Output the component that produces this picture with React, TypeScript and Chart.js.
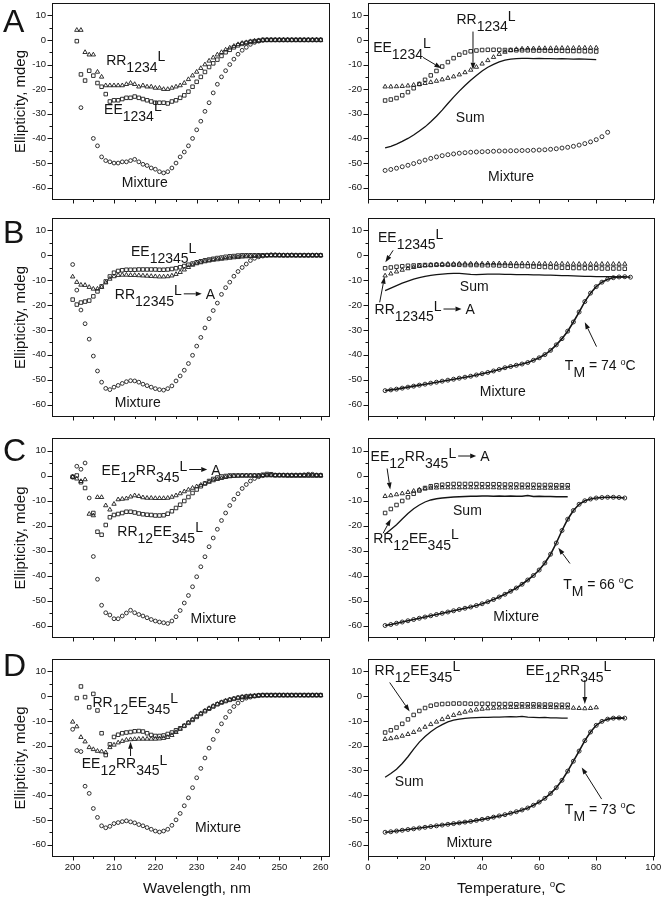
import React, { useEffect, useRef } from 'react';
import { Chart, registerables } from 'chart.js';

Chart.register(...registerables);

const FONT = '"Liberation Sans", Arial, Helvetica, sans-serif';
const INK = '#141414';

// ---------- x grids ----------
const WAVELENGTH = [200,201,202,203,204,205,206,207,208,209,210,211,212,213,214,215,216,217,218,219,220,221,222,223,224,225,226,227,228,229,230,231,232,233,234,235,236,237,238,239,240,241,242,243,244,245,246,247,248,249,250,251,252,253,254,255,256,257,258,259,260];
const TEMP_6_70 = [6,8,10,12,14,16,18,20,22,24,26,28,30,32,34,36,38,40,42,44,46,48,50,52,54,56,58,60,62,64,66,68,70];
const TEMP_6_80 = [6,8,10,12,14,16,18,20,22,24,26,28,30,32,34,36,38,40,42,44,46,48,50,52,54,56,58,60,62,64,66,68,70,72,74,76,78,80];
const TEMP_6_84 = [6,8,10,12,14,16,18,20,22,24,26,28,30,32,34,36,38,40,42,44,46,48,50,52,54,56,58,60,62,64,66,68,70,72,74,76,78,80,82,84];
const TEMP_6_90 = [6,8,10,12,14,16,18,20,22,24,26,28,30,32,34,36,38,40,42,44,46,48,50,52,54,56,58,60,62,64,66,68,70,72,74,76,78,80,82,84,86,88,90];
const TEMP_6_92 = [6,8,10,12,14,16,18,20,22,24,26,28,30,32,34,36,38,40,42,44,46,48,50,52,54,56,58,60,62,64,66,68,70,72,74,76,78,80,82,84,86,88,90,92];

// ---------- tick labels ----------
const Y_TICKS = [10, 0, -10, -20, -30, -40, -50, -60];
const Y_MINOR = [5, -5, -15, -25, -35, -45, -55];
const WL_TICKS = [200, 210, 220, 230, 240, 250, 260];
const WL_MINOR = [205, 215, 225, 235, 245, 255];
const T_TICKS = [0, 20, 40, 60, 80, 100];
const T_MINOR = [10, 30, 50, 70, 90];
const Y_TITLE = 'Ellipticity, mdeg';
const X_TITLE_WL = 'Wavelength, nm';
const X_TITLE_T = 'Temperature, ~{o}C';

// ---------- Panel A ----------
const A_L_RR = [null,4,4,-5,-6,-6,-13,-15,-18.5,-18.5,
  -18.5,-18.5,-18.5,-18,-17.5,-18,-19,-18.5,-19,-19,
  -19.5,-19.5,-20,-20,-19.5,-19,-18.5,-17.5,-16,-14.5,
  -13,-11.5,-10,-8.5,-7.2,-6,-5,-4,-3.2,-2.5,
  -1.8,-1.3,-1,-0.6,-0.4,-0.2,0,0,0,0,
  0,0,0,0,0,0,0,0,0,0,
  0];
const A_L_EE = [null,-0.5,-14,-16.5,-12.5,-14.5,-17.5,-19,-22,-25,
  -24.5,-24.5,-24,-23.5,-23.5,-23,-23.5,-24,-24.5,-25,
  -25.5,-25.5,-25.5,-25.8,-25,-24.5,-23.5,-22.5,-21,-19,
  -17,-15,-13,-11,-9.5,-8,-6.5,-5,-4,-3,
  -2.2,-1.6,-1.2,-0.8,-0.5,-0.3,0,0,0,0,
  0,0,0,0,0,0,0,0,0,0,
  0];
const A_L_MIX = [null,null,-27.5,null,null,-40,-43,-47.5,-49,-49.5,
  -50,-50,-49.5,-49.5,-49,-48.5,-49.5,-50.5,-51,-52,
  -52.5,-53.5,-54,-53.5,-52,-50,-47.5,-45.5,-43,-40,
  -36.5,-33,-29,-25.5,-21.5,-18,-15,-12.5,-10,-7.8,
  -5.8,-4.2,-3,-1.8,-1,-0.5,-0.2,0,0,0,
  0,0,0,0,0,0,0,0,0,0,
  0];
const A_R_EE = [-24.6,-24.2,-23.6,-22.5,-21.2,-19.6,-17.9,-16.2,-14.4,-12.6,
  -10.8,-9.0,-7.4,-6.0,-5.1,-4.6,-4.3,-4.1,-4.0,-4.0,
  -4.0,-4.1,-4.1,-4.2,-4.2,-4.2,-4.3,-4.3,-4.3,-4.4,
  -4.4,-4.4,-4.5,-4.5,-4.5,-4.6,-4.6,-4.7];
const A_R_RR = [-19,-19,-18.9,-18.8,-18.6,-18.3,-18.0,-17.6,-17.2,-16.7,
  -16.1,-15.5,-14.9,-14.1,-13.2,-12.2,-11.0,-9.7,-8.3,-7.0,
  -5.8,-4.9,-4.2,-3.8,-3.6,-3.5,-3.5,-3.4,-3.4,-3.4,
  -3.3,-3.3,-3.3,-3.3,-3.2,-3.2,-3.2,-3.2];
const A_R_SUM = [-43.8,-43.2,-42.3,-41.2,-40.0,-38.6,-37.0,-35.3,-33.2,-31.0,
  -28.5,-25.8,-23.2,-20.8,-18.5,-16.4,-14.4,-12.6,-11.1,-9.9,
  -8.9,-8.2,-7.8,-7.6,-7.5,-7.5,-7.6,-7.5,-7.6,-7.6,
  -7.7,-7.6,-7.7,-7.8,-7.7,-7.8,-7.9,-8.0];
const A_R_MIX = [-53,-52.6,-52.1,-51.5,-50.9,-50.2,-49.5,-48.8,-48.1,-47.5,
  -47.0,-46.6,-46.3,-46.0,-45.8,-45.6,-45.5,-45.4,-45.3,-45.2,
  -45.1,-45.1,-45.0,-45.0,-44.9,-44.9,-44.8,-44.7,-44.6,-44.4,
  -44.2,-43.9,-43.6,-43.2,-42.7,-42.1,-41.4,-40.5,-39.3,-37.5];

// ---------- Panel B ----------
const B_L_MIX = [-3.7,-14,-22,-27.5,-33.7,-40.5,-46.5,-51,-53.5,-54,
  -53,-52.3,-51.5,-50.8,-50.4,-50.5,-51,-51.8,-52.4,-53,
  -53.6,-54,-54.2,-53.6,-52.5,-50.5,-48.5,-46.2,-43.5,-40.2,
  -36.5,-33,-29.2,-25.5,-22.2,-19.2,-15.7,-13,-10.8,-8.4,
  -6.5,-4.9,-3.5,-2.1,-1.2,-0.6,-0.3,0,0.2,0.2,
  0.1,0,0,0.1,0,0,0,0,0,0,
  0];
const B_L_EE = [-17.8,-19.8,-19,-18.6,-18.2,-16.5,-14.5,-12.5,-10.5,-8.5,
  -7,-6.3,-6,-5.8,-5.8,-5.8,-5.7,-5.7,-5.7,-5.7,
  -5.7,-5.8,-5.8,-5.7,-5.5,-5.2,-4.8,-4.3,-3.8,-3.3,
  -2.8,-2.4,-2,-1.7,-1.4,-1.1,-0.9,-0.6,-0.4,-0.3,
  -0.1,0,0,0,0,0,0,0,0,0,
  0,0,0,0,0,0,0,0,0,0,
  0];
const B_L_RR = [-8.6,-10.8,-11.9,-12,-12.8,-13.5,-13.5,-12.8,-11,-9.5,
  -8.5,-8,-7.9,-7.9,-8,-8,-8.1,-8.2,-8.3,-8.4,
  -8.5,-8.6,-8.6,-8.5,-8.2,-7.6,-6.8,-5.8,-4.8,-3.9,
  -3.3,-2.9,-2.5,-2.2,-1.9,-1.7,-1.5,-1.3,-1.1,-0.9,
  -0.8,-0.6,-0.5,-0.4,-0.3,-0.2,-0.1,0,0,0,
  0,0,0,0,0,0,0,0,0,0,
  0];
const B_R_EE = [-5.2,-4.9,-4.6,-4.4,-4.2,-4.1,-4.0,-3.9,-3.9,-3.8,
  -3.8,-3.8,-3.8,-3.8,-3.9,-3.9,-3.9,-4.0,-4.0,-4.0,
  -4.1,-4.1,-4.2,-4.3,-4.3,-4.4,-4.5,-4.6,-4.7,-4.8,
  -4.9,-5.0,-5.0,-5.1,-5.1,-5.2,-5.2,-5.2,-5.3,-5.3,
  -5.3,-5.3,-5.4];
const B_R_RR = [-8.2,-7.4,-6.6,-5.9,-5.3,-4.8,-4.4,-4.1,-3.9,-3.7,
  -3.6,-3.5,-3.5,-3.4,-3.4,-3.4,-3.4,-3.4,-3.3,-3.3,
  -3.3,-3.3,-3.3,-3.3,-3.3,-3.3,-3.4,-3.4,-3.4,-3.4,
  -3.4,-3.4,-3.5,-3.5,-3.5,-3.5,-3.5,-3.5,-3.5,-3.5,
  -3.5,-3.5,-3.5];
const B_R_SUM = [-14.2,-13.2,-12.2,-11.2,-10.4,-9.6,-9.0,-8.5,-8.1,-7.8,
  -7.6,-7.4,-7.3,-7.3,-7.5,-7.7,-7.8,-7.7,-7.6,-7.6,
  -7.6,-7.7,-7.7,-7.8,-7.8,-7.8,-7.9,-7.9,-8.0,-8.0,
  -8.1,-8.2,-8.2,-8.3,-8.4,-8.5,-8.5,-8.6,-8.6,-8.6,
  -8.6,-8.7,-8.7];
const B_R_MIX = [-54.4,-54.1,-53.8,-53.4,-53.0,-52.6,-52.2,-51.8,-51.4,-51.0,
  -50.6,-50.2,-49.8,-49.4,-49.0,-48.6,-48.1,-47.6,-47.1,-46.5,
  -45.9,-45.2,-44.7,-44.2,-43.7,-43.1,-42.2,-41.2,-39.9,-38.2,
  -36.0,-33.5,-30.5,-26.8,-22.8,-18.6,-15.2,-12.6,-10.8,-9.6,
  -9.0,-8.7,-8.6,-8.8];

// ---------- Panel C ----------
const C_L_MIX = [-0.7,3.7,2.5,5,-9,-32.4,-41.5,-51.9,-54.9,-55.8,
  -57.3,-57.3,-56.2,-55,-53.9,-54.9,-55.6,-56.2,-56.9,-57.6,
  -58.2,-58.6,-58.9,-59.2,-58.2,-56.5,-54,-51,-48,-44.5,
  -40.5,-36.5,-32.5,-28.5,-25,-21.5,-18,-15,-12,-9.5,
  -7.3,-5.2,-3.6,-2.2,-1.2,-0.5,-0.1,0.2,0.2,0.2,
  0.2,0.2,0.2,0.2,0.2,0.2,0.3,0.5,0.5,0.2,
  0.2];
const C_L_SQ = [-0.5,0,-2.7,-5,null,-15,-22.5,-23.7,-19.8,-16.7,
  -15.8,-15.4,-15,-14.5,-14.5,-14.8,-15.2,-15.5,-15.7,-15.8,
  -16,-16,-15.9,-15.3,-14.3,-13,-11.7,-10.2,-8.6,-7,
  -5.6,-4.3,-3.2,-2.2,-1.4,-0.8,-0.4,-0.2,0,0,
  0,0,0,0,0,0,0.3,0.6,0.5,0.1,
  0.1,0.1,0,0,0,0,0,0,0,0,
  0];
const C_L_TR = [-0.5,-1.3,-2.3,-1.6,-15.4,-16,-8.7,-8.7,-12,-13.7,
  -11.4,-9.6,-9.4,-9.2,-8.5,-8,-8.3,-8.8,-9,-9,
  -9.1,-9.1,-9.1,-9,-8.6,-8,-7.2,-6.4,-5.7,-5,
  -4.4,-3.8,-3.2,-2.6,-2,-1.5,-1.1,-0.7,-0.4,-0.2,
  -0.1,0,0,0,0,0,0,0,0,0,
  0,0,0,0,0,0,0,0,0,0,
  0];
const C_R_SQ = [-15,-13.4,-11.8,-10.2,-8.7,-7.3,-6.0,-5.0,-4.3,-3.9,
  -3.7,-3.5,-3.4,-3.4,-3.4,-3.4,-3.4,-3.5,-3.5,-3.5,
  -3.5,-3.6,-3.6,-3.6,-3.7,-3.7,-3.7,-3.8,-3.8,-3.8,
  -3.9,-3.9,-3.9];
const C_R_TR = [-8.3,-8.0,-7.6,-7.2,-6.7,-6.2,-5.7,-5.3,-5.0,-4.9,
  -4.8,-4.8,-4.8,-4.8,-4.8,-4.8,-4.8,-4.8,-4.8,-4.8,
  -4.9,-4.9,-4.9,-4.9,-4.9,-4.9,-5.0,-5.0,-5.0,-5.0,
  -5.0,-5.0,-5.0];
const C_R_SUM = [-23.5,-21.6,-19.7,-17.4,-15.2,-13.3,-11.8,-10.6,-9.8,-9.3,
  -9.0,-8.8,-8.6,-8.5,-8.4,-8.3,-8.3,-8.2,-8.2,-8.3,
  -8.2,-8.3,-8.2,-8.3,-8.3,-8.0,-8.4,-8.3,-8.4,-8.4,
  -8.5,-8.5,-8.5];
const C_R_MIX = [-60,-59.6,-59.1,-58.6,-58.1,-57.6,-57.1,-56.6,-56.1,-55.6,
  -55.1,-54.6,-54.1,-53.6,-53.1,-52.6,-52.0,-51.3,-50.5,-49.6,
  -48.6,-47.5,-46.3,-45.0,-43.5,-41.8,-40.0,-37.8,-35.0,-31.5,
  -27.0,-22.0,-17.5,-14.0,-11.5,-10.1,-9.4,-9.0,-8.8,-8.7,
  -8.7,-8.8,-9.0];

// ---------- Panel D ----------
const D_L_SQ = [null,-0.8,3.9,-0.4,-4.5,0.9,-5.8,-15,-23.8,-19.5,
  -16.5,-15.6,-15,-14.7,-14.5,-14.2,-14.1,-14.3,-15,-15.7,
  -16.1,-16.1,-15.9,-15.3,-14.7,-13.8,-13,-12,-10.8,-9.6,
  -8.4,-7.2,-6.1,-5.1,-4.2,-3.3,-2.6,-2,-1.5,-1.1,
  -0.7,-0.4,-0.2,0,0.1,0.3,0.4,0.4,0.4,0.4,
  0.4,0.4,0.4,0.4,0.4,0.4,0.4,0.4,0.4,0.4,
  0.4];
const D_L_TR = [-10.4,-12.3,-16.6,-18.4,-20.7,-21.5,-22.2,-22.4,-22.8,-20.7,
  -19.7,-18.8,-18.2,-17.7,-17.5,-17.4,-17.3,-17.3,-17.3,-17.3,
  -17.3,-17.2,-17,-16.6,-15.8,-14.6,-13.3,-12,-10.7,-9.4,
  -8.2,-7,-5.9,-4.9,-4,-3.2,-2.5,-1.9,-1.4,-1,
  -0.6,-0.3,-0.1,0,0.1,0.3,0.3,0.3,0.3,0.3,
  0.3,0.3,0.3,0.3,0.3,0.3,0.3,0.3,0.3,0.3,
  0.3];
const D_L_MIX = [-13.4,-22,-22.4,-36.4,-39.3,-45.4,-49,-52.4,-53.2,-52.6,
  -51.5,-51.1,-50.7,-50.4,-50.8,-51.2,-51.9,-52.4,-53.1,-53.8,
  -54.5,-54.9,-54.5,-53.8,-52.2,-50,-47.4,-44.3,-41.1,-37,
  -33,-29.2,-25,-21,-17.5,-14.1,-11.2,-8.6,-6.2,-4.2,
  -2.8,-1.5,-0.8,-0.4,0,0.2,0.4,0.4,0.4,0.4,
  0.4,0.4,0.4,0.4,0.4,0.4,0.4,0.4,0.4,0.4,
  0.4];
const D_R_SQ = [-14.7,-13.8,-12.7,-11.2,-9.4,-7.6,-6.0,-4.8,-3.9,-3.4,
  -3.2,-3.1,-3.0,-3.0,-3.0,-3.1,-3.1,-3.1,-3.1,-3.2,
  -3.2,-3.2,-3.2,-3.3,-3.3,-3.3,-3.3,-3.4,-3.4,-3.4,
  -3.5,-3.5,-3.5];
const D_R_TR = [-17.4,-17.1,-16.7,-16.1,-15.4,-14.6,-13.6,-12.5,-11.4,-10.4,
  -9.4,-8.5,-7.7,-7.0,-6.4,-5.9,-5.5,-5.2,-5.0,-4.8,
  -4.7,-4.6,-4.5,-4.5,-4.4,-4.4,-4.4,-4.4,-4.5,-4.5,
  -4.6,-4.6,-4.7,-4.8,-4.9,-5.0,-4.9,-4.6];
const D_R_SUM = [-32.8,-31.3,-29.5,-27.2,-24.5,-21.4,-18.6,-16.3,-14.4,-12.8,
  -11.5,-10.4,-9.7,-9.3,-9.0,-8.8,-8.7,-8.6,-8.6,-8.5,
  -8.5,-8.4,-8.3,-8.4,-8.2,-8.5,-8.6,-8.7,-8.6,-8.8,
  -8.8,-8.9,-8.9];
const D_R_MIX = [-55,-54.8,-54.5,-54.2,-53.9,-53.6,-53.3,-53.0,-52.7,-52.4,
  -52.1,-51.8,-51.5,-51.2,-50.9,-50.6,-50.2,-49.8,-49.4,-48.9,
  -48.4,-47.9,-47.3,-46.7,-46.0,-45.2,-44.1,-42.8,-41.3,-39.3,
  -37.0,-34.0,-30.3,-26.3,-22.2,-18.0,-14.5,-11.8,-10.2,-9.3,
  -8.9,-8.8,-8.9];

// ---------- layout ----------
const ROWS = [
  { canvasTop: -9, height: 221, letterBaseline: 32 },
  { canvasTop: 206, height: 223, letterBaseline: 243 },
  { canvasTop: 426, height: 224, letterBaseline: 461 },
  { canvasTop: 647, height: 253, letterBaseline: 676 },
];

const PANELS: any[] = [
  { side: 'L', row: 0, letter: 'A',
    series: [
      { xs: WAVELENGTH, ys: A_L_RR, mark: 'triangle' },
      { xs: WAVELENGTH, ys: A_L_EE, mark: 'rect' },
      { xs: WAVELENGTH, ys: A_L_MIX, mark: 'circle' },
    ],
    labels: [
      { x: 208.1, y: -10, text: 'RR_{1234}^{L}' },
      { x: 207.6, y: -30.1, text: 'EE_{1234}^{L}' },
      { x: 211.9, y: -59.6, text: 'Mixture' },
    ], arrows: [] },
  { side: 'R', row: 0,
    series: [
      { xs: TEMP_6_80, ys: A_R_EE, mark: 'rect' },
      { xs: TEMP_6_80, ys: A_R_RR, mark: 'triangle' },
      { xs: TEMP_6_80, ys: A_R_SUM, mark: 'line' },
      { xs: TEMP_6_84, ys: A_R_MIX, mark: 'circle' },
    ],
    labels: [
      { x: 31, y: 6.3, text: 'RR_{1234}^{L}' },
      { x: 1.8, y: -4.7, text: 'EE_{1234}^{L}' },
      { x: 30.8, y: -33.3, text: 'Sum' },
      { x: 42.1, y: -57.3, text: 'Mixture' },
    ],
    arrows: [
      { x1: 36.8, y1: 3.4, x2: 36.8, y2: -12.1 },
      { x1: 19.3, y1: -7.1, x2: 25.7, y2: -11.5 },
    ] },
  { side: 'L', row: 1, letter: 'B',
    series: [
      { xs: WAVELENGTH, ys: B_L_RR, mark: 'triangle' },
      { xs: WAVELENGTH, ys: B_L_EE, mark: 'rect' },
      { xs: WAVELENGTH, ys: B_L_MIX, mark: 'circle' },
    ],
    labels: [
      { x: 214.1, y: -0.3, text: 'EE_{12345}^{L}' },
      { x: 210.2, y: -17.5, text: 'RR_{12345}^{L}→A' },
      { x: 210.2, y: -61, text: 'Mixture' },
    ], arrows: [] },
  { side: 'R', row: 1,
    series: [
      { xs: TEMP_6_90, ys: B_R_EE, mark: 'rect' },
      { xs: TEMP_6_90, ys: B_R_RR, mark: 'triangle' },
      { xs: TEMP_6_90, ys: B_R_SUM, mark: 'line' },
      { xs: TEMP_6_92, ys: B_R_MIX, mark: 'circleFit' },
    ],
    labels: [
      { x: 3.5, y: 5.2, text: 'EE_{12345}^{L}' },
      { x: 2.3, y: -23.6, text: 'RR_{12345}^{L}→A' },
      { x: 32.2, y: -14.5, text: 'Sum' },
      { x: 69, y: -46.3, text: 'T_{M} = 74 ~{o}C' },
      { x: 39.2, y: -56.4, text: 'Mixture' },
    ],
    arrows: [
      { x1: 8.8, y1: 2.0, x2: 6.1, y2: -2.8 },
      { x1: 4.1, y1: -18.9, x2: 5.8, y2: -8.6 },
      { x1: 80.1, y1: -36.7, x2: 76, y2: -26.9 },
    ] },
  { side: 'L', row: 2, letter: 'C',
    series: [
      { xs: WAVELENGTH, ys: C_L_TR, mark: 'triangle' },
      { xs: WAVELENGTH, ys: C_L_SQ, mark: 'rect' },
      { xs: WAVELENGTH, ys: C_L_MIX, mark: 'circle' },
    ],
    labels: [
      { x: 207, y: 0.4, text: 'EE_{12}RR_{345}^{L}→A' },
      { x: 210.8, y: -24.1, text: 'RR_{12}EE_{345}^{L}' },
      { x: 228.5, y: -58.9, text: 'Mixture' },
    ], arrows: [] },
  { side: 'R', row: 2,
    series: [
      { xs: TEMP_6_70, ys: C_R_SQ, mark: 'rect' },
      { xs: TEMP_6_70, ys: C_R_TR, mark: 'triangle' },
      { xs: TEMP_6_70, ys: C_R_SUM, mark: 'line' },
      { xs: TEMP_6_90, ys: C_R_MIX, mark: 'circleFit' },
    ],
    labels: [
      { x: 0.9, y: 5.8, text: 'EE_{12}RR_{345}^{L}→A' },
      { x: 1.8, y: -26.8, text: 'RR_{12}EE_{345}^{L}' },
      { x: 29.8, y: -15.7, text: 'Sum' },
      { x: 68.4, y: -45.3, text: 'T_{M} = 66 ~{o}C' },
      { x: 43.9, y: -58.3, text: 'Mixture' },
    ],
    arrows: [
      { x1: 6.7, y1: 2.8, x2: 7.8, y2: -5.6 },
      { x1: 5.3, y1: -23.1, x2: 8, y2: -17.4 },
      { x1: 70.8, y1: -35.2, x2: 66.7, y2: -28.9 },
    ] },
  { side: 'L', row: 3, letter: 'D',
    series: [
      { xs: WAVELENGTH, ys: D_L_SQ, mark: 'rect' },
      { xs: WAVELENGTH, ys: D_L_TR, mark: 'triangle' },
      { xs: WAVELENGTH, ys: D_L_MIX, mark: 'circle' },
    ],
    labels: [
      { x: 204.8, y: -4.2, text: 'RR_{12}EE_{345}^{L}' },
      { x: 202.2, y: -29.2, text: 'EE_{12}RR_{345}^{L}' },
      { x: 229.6, y: -55, text: 'Mixture' },
    ],
    arrows: [ { x1: 214, y1: -24.2, x2: 214, y2: -18.4 } ] },
  { side: 'R', row: 3,
    series: [
      { xs: TEMP_6_70, ys: D_R_SQ, mark: 'rect' },
      { xs: TEMP_6_80, ys: D_R_TR, mark: 'triangle' },
      { xs: TEMP_6_70, ys: D_R_SUM, mark: 'line' },
      { xs: TEMP_6_90, ys: D_R_MIX, mark: 'circleFit' },
    ],
    labels: [
      { x: 2.3, y: 8.6, text: 'RR_{12}EE_{345}^{L}' },
      { x: 55.3, y: 8.6, text: 'EE_{12}RR_{345}^{L}' },
      { x: 9.4, y: -36.2, text: 'Sum' },
      { x: 69, y: -47.6, text: 'T_{M} = 73 ~{o}C' },
      { x: 27.5, y: -61.1, text: 'Mixture' },
    ],
    arrows: [
      { x1: 7.6, y1: 5.5, x2: 14.6, y2: -6.2 },
      { x1: 76, y1: 6.5, x2: 76, y2: -3.2 },
      { x1: 81.9, y1: -41.6, x2: 74.9, y2: -28.8 },
    ] },
];

// ---------- rich text helpers ----------
function parseRich(s: string) {
  const out: { t: string; k: string }[] = [];
  let buf = '';
  let i = 0;
  const flush = () => { if (buf) { out.push({ t: buf, k: 'n' }); buf = ''; } };
  while (i < s.length) {
    const c = s[i];
    if ((c === '_' || c === '^' || c === '~') && s[i + 1] === '{') {
      flush();
      const end = s.indexOf('}', i);
      out.push({ t: s.slice(i + 2, end), k: c });
      i = end + 1;
    } else if (c === '→') {
      flush();
      out.push({ t: '', k: 'a' });
      i++;
    } else { buf += c; i++; }
  }
  flush();
  return out;
}

const SEG: any = { n: { s: 1, dy: 0 }, _: { s: 1, dy: 0.5 }, '^': { s: 1, dy: -0.25 }, '~': { s: 0.65, dy: -0.4 } };

function drawArrow(ctx: any, x1: number, y1: number, x2: number, y2: number, head = 7, half = 2.4) {
  const a = Math.atan2(y2 - y1, x2 - x1);
  const bx = x2 - head * Math.cos(a), by = y2 - head * Math.sin(a);
  ctx.beginPath();
  ctx.moveTo(x1, y1);
  ctx.lineTo(bx, by);
  ctx.stroke();
  ctx.beginPath();
  ctx.moveTo(x2, y2);
  ctx.lineTo(bx + half * Math.sin(a), by - half * Math.cos(a));
  ctx.lineTo(bx - half * Math.sin(a), by + half * Math.cos(a));
  ctx.closePath();
  ctx.fill();
}

function drawRich(ctx: any, x: number, y: number, s: string, base: number, dry = false) {
  let cx = x;
  for (const seg of parseRich(s)) {
    if (seg.k === 'a') {
      if (!dry) drawArrow(ctx, cx + 2, y - 5, cx + 20, y - 5, 6, 2.4);
      cx += 24;
      continue;
    }
    const st = SEG[seg.k];
    ctx.font = `${(base * st.s).toFixed(1)}px ${FONT}`;
    if (!dry) ctx.fillText(seg.t, cx, y + st.dy * base);
    cx += ctx.measureText(seg.t).width;
  }
  return cx - x;
}

function makeDecor(p: any) {
  const row = ROWS[p.row];
  const isLeft = p.side === 'L';
  return {
    id: 'decor',
    afterDraw(chart: any) {
      const { ctx, chartArea: ca, scales } = chart;
      const sx = scales.x, sy = scales.y;
      ctx.save();
      ctx.strokeStyle = INK;
      ctx.fillStyle = INK;
      ctx.lineWidth = 1;
      ctx.textBaseline = 'alphabetic';
      ctx.textAlign = 'left';
      const L = Math.round(ca.left) + 0.5;
      const R = Math.round(ca.right) - 0.5;
      const T = Math.round(ca.top) + 0.5;
      const B = Math.round(ca.bottom) - 0.5;
      ctx.strokeRect(L, T, R - L, B - T);
      ctx.beginPath();
      for (const v of Y_TICKS) { const y = Math.round(sy.getPixelForValue(v)) + 0.5; ctx.moveTo(L - 5, y); ctx.lineTo(L, y); }
      for (const v of Y_MINOR) { const y = Math.round(sy.getPixelForValue(v)) + 0.5; ctx.moveTo(L - 3, y); ctx.lineTo(L, y); }
      for (const v of (isLeft ? WL_TICKS : T_TICKS)) { const x = Math.round(sx.getPixelForValue(v)) + 0.5; ctx.moveTo(x, B); ctx.lineTo(x, B + 4); }
      for (const v of (isLeft ? WL_MINOR : T_MINOR)) { const x = Math.round(sx.getPixelForValue(v)) + 0.5; ctx.moveTo(x, B); ctx.lineTo(x, B + 2.5); }
      ctx.stroke();

      if (p.letter) {
        ctx.font = `32px ${FONT}`;
        ctx.fillText(p.letter, 3, row.letterBaseline - row.canvasTop);
      }
      for (const l of p.labels) {
        drawRich(ctx, sx.getPixelForValue(l.x), sy.getPixelForValue(l.y), l.text, 14);
      }
      for (const a of p.arrows) {
        drawArrow(ctx, sx.getPixelForValue(a.x1), sy.getPixelForValue(a.y1), sx.getPixelForValue(a.x2), sy.getPixelForValue(a.y2));
      }
      if (p.row === 3) {
        const title = isLeft ? X_TITLE_WL : X_TITLE_T;
        const w = drawRich(ctx, 0, 0, title, 15, true);
        const cxm = (ca.left + ca.right) / 2 + (isLeft ? 6 : 0);
        drawRich(ctx, cxm - w / 2, 893 - row.canvasTop, title, 15);
      }
      ctx.restore();
    },
  };
}

function buildConfig(p: any) {
  const isLeft = p.side === 'L';
  const isBottom = p.row === 3;
  const datasets = p.series.map((s: any) => {
    const data = s.xs
      .map((x: number, i: number) => ({ x, y: s.ys[i] }))
      .filter((d: any) => d.y !== null && d.y !== undefined);
    const base: any = {
      data,
      borderColor: INK,
      backgroundColor: 'rgba(0,0,0,0)',
      pointBorderColor: '#1c1c1c',
      pointBackgroundColor: 'rgba(0,0,0,0)',
      pointBorderWidth: 0.9,
      showLine: false,
      tension: 0,
    };
    switch (s.mark) {
      case 'line':
        return { ...base, showLine: true, pointRadius: 0, borderWidth: 1.3 };
      case 'circleFit':
        return { ...base, showLine: true, borderWidth: 1.6, pointStyle: 'circle', pointRadius: 2 };
      case 'circle':
        return { ...base, pointStyle: 'circle', pointRadius: isLeft ? 1.9 : 2 };
      case 'rect':
        return { ...base, pointStyle: 'rect', pointRadius: 2.5 };
      default:
        return { ...base, pointStyle: 'triangle', pointRadius: 2.5 };
    }
  });
  const xScale: any = {
    type: 'linear',
    position: 'bottom',
    min: isLeft ? 195 : 0,
    max: isLeft ? 262.25 : 100.6,
    display: isBottom,
    grid: { display: false, drawTicks: false, tickLength: 0 },
    border: { display: false },
    afterBuildTicks: (s: any) => { s.ticks = (isLeft ? WL_TICKS : T_TICKS).map((v) => ({ value: v })); },
    ticks: { font: { family: FONT, size: 9.5 }, color: INK, padding: 5, maxRotation: 0, autoSkip: false, callback: (v: any) => String(v) },
  };
  if (isBottom) xScale.afterFit = (s: any) => { s.height = 43; };
  return {
    type: 'scatter',
    data: { datasets },
    options: {
      animation: false,
      responsive: false,
      maintainAspectRatio: false,
      devicePixelRatio: 1,
      events: [],
      layout: { padding: { left: 0, right: 14, top: 12, bottom: isBottom ? 0 : 12 } },
      plugins: { legend: { display: false }, tooltip: { enabled: false }, title: { display: false } },
      scales: {
        x: xScale,
        y: {
          type: 'linear',
          position: 'left',
          min: -65,
          max: 15,
          grid: { display: false, drawTicks: false, tickLength: 0 },
          border: { display: false },
          afterBuildTicks: (s: any) => { s.ticks = Y_TICKS.map((v) => ({ value: v })); },
          afterFit: (s: any) => { s.width = isLeft ? 52 : 34; },
          ticks: { font: { family: FONT, size: 9.5 }, color: INK, padding: 6, callback: (v: any) => String(v) },
          title: { display: isLeft, text: Y_TITLE, font: { family: FONT, size: 15 }, color: INK, padding: { top: 12, bottom: 0 } },
        },
      },
    },
    plugins: [makeDecor(p)],
  };
}

function PanelCanvas({ p }: { p: any }) {
  const ref = useRef<HTMLCanvasElement>(null);
  const row = ROWS[p.row];
  const left = p.side === 'L' ? 0 : 334;
  const width = p.side === 'L' ? 344 : 335;
  useEffect(() => {
    const chart = new Chart(ref.current as any, buildConfig(p) as any);
    return () => chart.destroy();
  }, [p]);
  return (
    <canvas
      ref={ref}
      width={width}
      height={row.height}
      style={{ position: 'absolute', left, top: row.canvasTop, width, height: row.height }}
    />
  );
}

export default function App() {
  return (
    <div style={{ position: 'absolute', left: 0, top: 0, width: 662, height: 900, overflow: 'hidden', background: '#fff' }}>
      {PANELS.map((p, i) => <PanelCanvas key={i} p={p} />)}
    </div>
  );
}
